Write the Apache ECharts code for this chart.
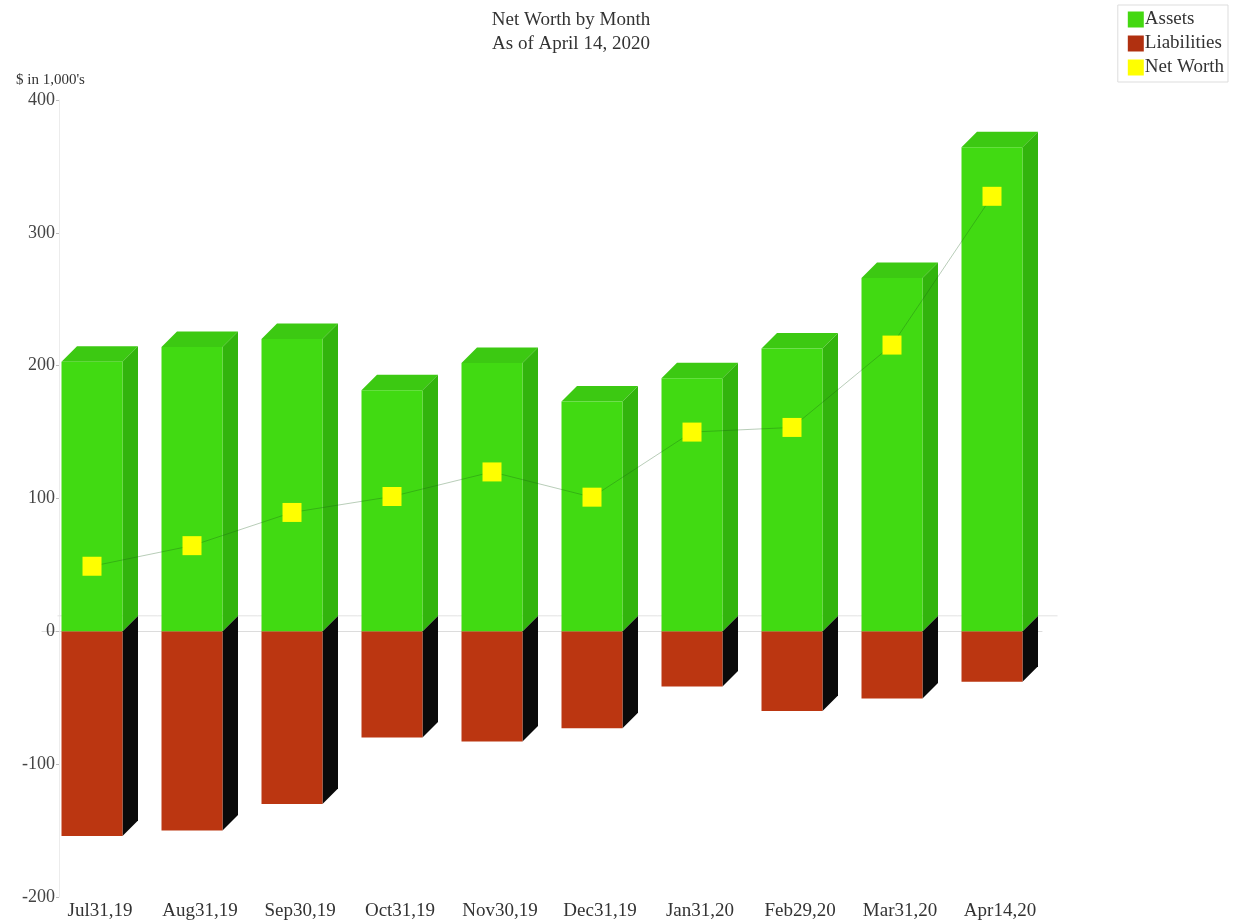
<!DOCTYPE html>
<html>
<head>
<meta charset="utf-8">
<script src="https://cdn.jsdelivr.net/npm/echarts@6/dist/echarts.min.js"></script>
<style>
html,body{margin:0;padding:0;background:#fff;}
#main{width:1237px;height:924px;}
</style>
</head>
<body>
<div id="main"></div>
<script>
var categories = ['Jul31,19','Aug31,19','Sep30,19','Oct31,19','Nov30,19','Dec31,19','Jan31,20','Feb29,20','Mar31,20','Apr14,20'];
var assets = [203, 214, 220, 181.5, 202, 173, 190.5, 213, 266, 364.5];
var liabilities = [-154, -150, -130, -80, -83, -73, -41.5, -60, -50.5, -38];
var netWorth = [49, 64.5, 89.5, 101.5, 120, 101, 150, 153.5, 215.5, 327.5];
var yTicks = [-200, -100, 0, 100, 200, 300, 400];

var FONT = '"Liberation Serif", "DejaVu Serif", serif';

function pairs(arr){
	var out = [];
	for(var i = 0; i < arr.length; i++){
		out.push([i, arr[i]]);
	}
	return out;
}

// 3d-ish bar: front face, top face, side face
function renderBar(front, topc, side, floor){
	return function(params, api){
		var i = api.value(0), v = api.value(1);
		var base = api.coord([i, 0]);
		var tip = api.coord([i, v]);
		var band = api.size([1, 0])[0];
		var w = band * 0.61, d = band * 0.155;
		var l = base[0] - w / 2, r = l + w;
		var y0 = base[1], y1 = tip[1];
		var kids = [];
		if(floor){
			kids.push({type:'line', shape:{x1: base[0] - band/2 + d, y1: y0 - d, x2: base[0] + band/2 + d, y2: y0 - d},
				style:{stroke:'#e2e2e2', lineWidth:1}});
		}
		if(v > 0){
			kids.push({type:'polygon', shape:{points:[[l, y1],[l + d, y1 - d],[r + d, y1 - d],[r, y1]]}, style:{fill: topc}});
			kids.push({type:'polygon', shape:{points:[[r, y1],[r + d, y1 - d],[r + d, y0 - d],[r, y0]]}, style:{fill: side}});
		}else{
			kids.push({type:'polygon', shape:{points:[[r, y0],[r + d, y0 - d],[r + d, y1 - d],[r, y1]]}, style:{fill: side}});
		}
		kids.push({type:'rect', shape:{x: l, y: Math.min(y0, y1), width: w, height: Math.abs(y1 - y0)}, style:{fill: front}});
		return {type:'group', children: kids};
	};
}

var myChart = echarts.init(document.getElementById('main'));
var option = {
	backgroundColor: '#fff',
	animation: false,
	title: [
		{
			text: 'Net Worth by Month\nAs of April 14, 2020',
			left: 566, top: 3, textAlign: 'center',
			textStyle: {fontFamily: FONT, fontSize: 19, fontWeight: 'normal', color: '#333', lineHeight: 24}
		},
		{
			text: "$ in 1,000's",
			left: 11, top: 68,
			textStyle: {fontFamily: FONT, fontSize: 15, fontWeight: 'normal', color: '#333'}
		}
	],
	legend: {
		orient: 'vertical',
		right: 9, top: 5,
		padding: [5, 4, 5, 10],
		itemWidth: 16, itemHeight: 16, itemGap: 5,
		borderColor: '#ddd', borderWidth: 1,
		icon: 'rect',
		textStyle: {fontFamily: FONT, fontSize: 19, color: '#333', padding: [0, 0, 0, -4]},
		data: ['Assets', 'Liabilities', 'Net Worth']
	},
	grid: {left: 42, right: 195, top: 100, bottom: 27},
	xAxis: {
		type: 'category',
		data: categories,
		axisLine: {show: true, onZero: true, lineStyle: {color: '#dcdcdc'}},
		axisTick: {show: false},
		axisLabel: {fontFamily: FONT, fontSize: 19, color: '#333', margin: 5, padding: [0, 0, 0, 16]},
		splitLine: {show: false}
	},
	yAxis: {
		type: 'value',
		min: yTicks[0], max: yTicks[yTicks.length - 1], interval: 100,
		offset: -17,
		axisLine: {show: true, lineStyle: {color: '#ececec'}},
		axisTick: {show: true, length: 3, lineStyle: {color: '#bbb'}},
		axisLabel: {fontFamily: FONT, fontSize: 18, color: '#444', margin: 4},
		splitLine: {show: false}
	},
	series: [
		{
			name: 'Liabilities',
			type: 'custom',
			itemStyle: {color: '#b03010'},
			renderItem: renderBar('#bb3611', '#bb3611', '#0a0a0a', true),
			encode: {x: 0, y: 1},
			data: pairs(liabilities),
			z: 2
		},
		{
			name: 'Assets',
			type: 'custom',
			itemStyle: {color: '#44d811'},
			renderItem: renderBar('#41da12', '#3cc912', '#32b40d', false),
			encode: {x: 0, y: 1},
			data: pairs(assets),
			z: 3
		},
		{
			name: 'Net Worth',
			type: 'line',
			data: netWorth,
			symbol: 'rect',
			symbolSize: 19,
			itemStyle: {color: '#ffff00'},
			lineStyle: {color: 'rgba(20,90,20,0.3)', width: 1},
			z: 5
		}
	]
};
myChart.setOption(option);
</script>
</body>
</html>
